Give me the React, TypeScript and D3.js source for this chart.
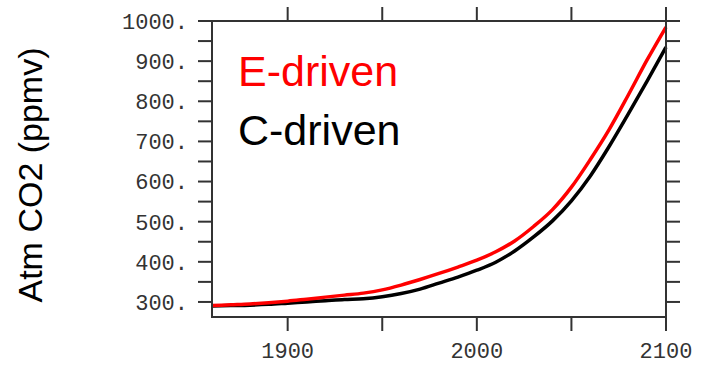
import React, { useEffect } from 'react';
import * as d3 from 'd3';

// years every decade (ppmv)
const years = [1860, 1870, 1880, 1890, 1900, 1910, 1920, 1930, 1940, 1950, 1960, 1970, 1980,
  1990, 2000, 2010, 2020, 2030, 2040, 2050, 2060, 2070, 2080, 2090, 2100];
const eDriven = [291, 293, 295, 298, 302, 307, 312, 317, 322, 330, 342, 356, 371,
  387, 404, 425, 452, 488, 530, 586, 655, 730, 815, 903, 985];
const cDriven = [290, 291, 292, 294, 297, 300, 303, 306, 308, 313, 321, 332, 347,
  362, 379, 399, 427, 462, 502, 552, 614, 688, 768, 850, 935];

const xTicks = [1900, 1950, 2000, 2050, 2100];
const xLabels = [1900, 2000, 2100];
const yTicks = d3.range(300, 1001, 50);
const yLabels = d3.range(300, 1001, 100);

const W = 701;
const H = 366;
const left = 212, right = 666, top = 21, bottom = 317;
const tick = 14;
const axisColor = '#333';
const tickFont = '"Liberation Mono", monospace';

const App: React.FC = () => {
  useEffect(() => {
    document.body.style.margin = '0';
  }, []);

  const x = d3.scaleLinear().domain([1860, 2100]).range([left, right]);
  const y = d3.scaleLinear().domain([262.5, 1000]).range([bottom, top]);

  const line = d3.line<number>()
    .x((_, i) => x(years[i]))
    .y(d => y(d))
    .curve(d3.curveMonotoneX);

  return (
    <svg width={W} height={H} style={{ display: 'block', background: '#fff' }}>
      {/* curves */}
      <path d={line(cDriven) || ''} fill="none" stroke="#000" strokeWidth={3.5} />
      <path d={line(eDriven) || ''} fill="none" stroke="#ff0000" strokeWidth={3.5} />

      {/* frame */}
      <rect x={left} y={top} width={right - left} height={bottom - top}
        fill="none" stroke={axisColor} strokeWidth={2} />

      {/* x ticks, top and bottom */}
      {xTicks.map(t => (
        <g key={'x' + t}>
          <line x1={x(t)} x2={x(t)} y1={bottom} y2={bottom + tick} stroke={axisColor} strokeWidth={2} />
          <line x1={x(t)} x2={x(t)} y1={top} y2={top - tick} stroke={axisColor} strokeWidth={2} />
        </g>
      ))}
      {xLabels.map(t => (
        <text key={'xl' + t} x={x(t)} y={358} textAnchor="middle"
          fontFamily={tickFont} fontSize={22} fill="#333">{t}</text>
      ))}

      {/* y ticks, left and right */}
      {yTicks.map(t => (
        <g key={'y' + t}>
          <line x1={left} x2={left - tick} y1={y(t)} y2={y(t)} stroke={axisColor} strokeWidth={2} />
          <line x1={right} x2={right + tick} y1={y(t)} y2={y(t)} stroke={axisColor} strokeWidth={2} />
        </g>
      ))}
      {yLabels.map(t => (
        <text key={'yl' + t} x={188} y={y(t)} dy="0.36em" textAnchor="end"
          fontFamily={tickFont} fontSize={22} fill="#333">{t + '.'}</text>
      ))}

      {/* axis title */}
      <text transform="translate(41.5,175) rotate(-90)" textAnchor="middle"
        fontFamily='"Liberation Sans", Arial, sans-serif' fontSize={34} fill="#000">
        Atm CO2 (ppmv)
      </text>

      {/* legend */}
      <text x={238} y={86} fontFamily='"Liberation Sans", Arial, sans-serif' fontSize={43} fill="#ff0000">E-driven</text>
      <text x={238} y={145} fontFamily='"Liberation Sans", Arial, sans-serif' fontSize={43} fill="#000">C-driven</text>
    </svg>
  );
};

export default App;
